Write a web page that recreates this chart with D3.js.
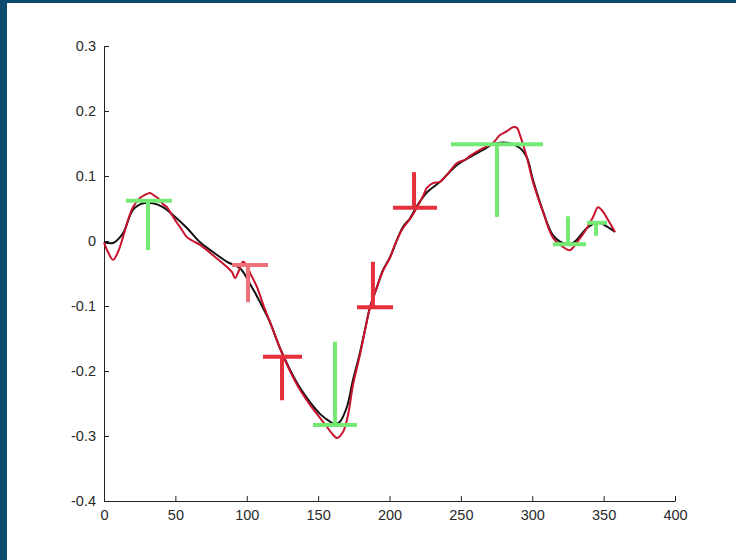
<!DOCTYPE html>
<html>
<head>
<meta charset="utf-8">
<script src="https://cdn.jsdelivr.net/npm/d3@7"></script>
<style>
  body { margin: 0; background: #fff; }
  svg { display: block; }
</style>
</head>
<body>
<div id="chart"></div>
<script>
var width = 736;
var height = 560;

// smooth (black) curve
var blackX = [0, 6.3, 13.3, 20.3, 27.3, 34.3, 41.3, 48.3, 58.1, 67.3, 76.4, 86.2, 95.3, 102.3, 109.3, 116.3, 123.3, 130.3, 137.3, 144.3, 151.3, 158.3, 161.8, 165.3, 170.2, 174.4, 179.3, 182.8, 186.3, 191.2, 195.4, 200.4, 205.3, 209.5, 214.4, 219.3, 226.3, 235.4, 247.3, 256.4, 265.5, 272.5, 282.3, 291.4, 296.3, 300.5, 307.5, 314.5, 321.5, 328.5, 338.4, 346.1, 352.4, 358];
var blackY = [-0.002, -0.003, 0.012, 0.048, 0.058, 0.058, 0.052, 0.040, 0.020, -0.002, -0.017, -0.032, -0.042, -0.066, -0.094, -0.125, -0.165, -0.198, -0.226, -0.248, -0.266, -0.278, -0.282, -0.278, -0.255, -0.214, -0.172, -0.137, -0.102, -0.071, -0.045, -0.025, 0.002, 0.022, 0.035, 0.054, 0.075, 0.091, 0.117, 0.129, 0.140, 0.149, 0.151, 0.143, 0.128, 0.094, 0.046, 0.009, -0.003, -0.003, 0.020, 0.029, 0.022, 0.014];

// noisy (red) curve
var redX = [0, 2.8, 6.3, 9.8, 13.3, 16.8, 20.3, 25.2, 28.7, 32.2, 35.7, 37.8, 41.3, 44.1, 47.6, 51.1, 54.6, 58.1, 62.3, 67.3, 76.4, 86.2, 89.7, 91.8, 94.6, 97.4, 100.2, 102.3, 107.2, 111.4, 116.3, 123.3, 130.3, 137.3, 144.3, 151.3, 156.2, 160.4, 163.2, 167.4, 170.9, 174.4, 179.3, 182.8, 186.3, 191.2, 195.4, 200.4, 205.3, 209.5, 214.4, 219.3, 223.5, 226.3, 230.5, 235.4, 240.3, 247.3, 252.9, 256.4, 265.5, 272.5, 277.4, 282.3, 286.5, 289.3, 291.4, 296.3, 300.5, 307.5, 314.5, 321.5, 326.4, 331.3, 338.4, 342.6, 346.1, 349.6, 352.4, 358];
var redY = [-0.002, -0.017, -0.029, -0.017, 0.006, 0.032, 0.052, 0.066, 0.071, 0.074, 0.069, 0.066, 0.057, 0.052, 0.040, 0.028, 0.017, 0.006, 0.000, -0.006, -0.022, -0.040, -0.048, -0.057, -0.045, -0.032, -0.038, -0.049, -0.071, -0.097, -0.125, -0.165, -0.200, -0.229, -0.252, -0.272, -0.286, -0.298, -0.303, -0.294, -0.268, -0.222, -0.175, -0.138, -0.103, -0.071, -0.046, -0.025, 0.002, 0.020, 0.034, 0.052, 0.069, 0.082, 0.089, 0.091, 0.102, 0.120, 0.125, 0.131, 0.143, 0.151, 0.163, 0.169, 0.175, 0.174, 0.163, 0.128, 0.091, 0.045, 0.005, -0.009, -0.014, -0.002, 0.020, 0.037, 0.052, 0.045, 0.035, 0.014];

// T markers: stem x, bar y, stem end, bar left/right
var markerX = [30.8, 100.9, 124.7, 161.8, 188.4, 217.2, 275.3, 325.0, 344.7];
var markerY = [0.062, -0.037, -0.178, -0.283, -0.102, 0.051, 0.149, -0.005, 0.028];
var markerTip = [-0.014, -0.094, -0.245, -0.155, -0.032, 0.106, 0.037, 0.038, 0.008];
var markerLeft = [15.4, 89.7, 111.4, 146.4, 177.2, 202.5, 243.1, 314.5, 338.4];
var markerRight = [47.6, 114.9, 138.7, 177.2, 202.5, 233.3, 307.5, 337.7, 352.4];
var markerKind = ['green', 'pink', 'red', 'green', 'red', 'red', 'green', 'green', 'green'];

var xTicks = [0, 50, 100, 150, 200, 250, 300, 350, 400];
var yTicks = [0.3, 0.2, 0.1, 0, -0.1, -0.2, -0.3, -0.4];

var kindColor = { green: '#74ea74', pink: '#f07078', red: '#e4303a' };

var xScale = d3.scaleLinear().domain([0, 400]).range([104, 675]);
var yScale = d3.scaleLinear().domain([-0.4, 0.3]).range([501, 46]);

var svg = d3.select('#chart').append('svg')
    .attr('width', width)
    .attr('height', height);

svg.append('rect').attr('width', width).attr('height', height).attr('fill', '#fff');
// dark window frame
svg.append('rect').attr('x', 0).attr('y', 0).attr('width', width).attr('height', 3).attr('fill', '#0c4a6e');
svg.append('rect').attr('x', 0).attr('y', 0).attr('width', 7).attr('height', height).attr('fill', '#0c4a6e');

var fmt = function (d) { return String(Math.round(d * 10) / 10); };

var xAxis = svg.append('g')
    .attr('transform', 'translate(0,' + yScale(-0.4) + ')')
    .call(d3.axisBottom(xScale).tickValues(xTicks).tickFormat(fmt).tickSizeInner(-5).tickSizeOuter(0).tickPadding(9));

var yAxis = svg.append('g')
    .attr('transform', 'translate(' + xScale(0) + ',0)')
    .call(d3.axisLeft(yScale).tickValues(yTicks).tickFormat(fmt).tickSizeInner(-5).tickSizeOuter(0).tickPadding(8));

[xAxis, yAxis].forEach(function (ax) {
  ax.select('.domain').attr('stroke', '#222');
  ax.selectAll('.tick line').attr('stroke', '#222');
  ax.selectAll('text')
    .attr('fill', '#2a2a2a')
    .style('font-family', '"Liberation Sans", Arial, sans-serif')
    .style('font-size', '14.5px');
});

var line = d3.line()
    .x(function (d) { return xScale(d[0]); })
    .y(function (d) { return yScale(d[1]); })
    .curve(d3.curveCatmullRom.alpha(0.5));

svg.append('path')
    .datum(d3.zip(blackX, blackY))
    .attr('d', line)
    .attr('fill', 'none')
    .attr('stroke', '#111')
    .attr('stroke-width', 2);

svg.append('path')
    .datum(d3.zip(redX, redY))
    .attr('d', line)
    .attr('fill', 'none')
    .attr('stroke', '#c8122c')
    .attr('stroke-width', 2);

var marks = svg.selectAll('g.mark').data(d3.range(markerX.length))
  .enter().append('g')
    .attr('class', 'mark')
    .attr('stroke', function (i) { return kindColor[markerKind[i]]; })
    .attr('stroke-width', 4);

marks.append('line')
    .attr('x1', function (i) { return xScale(markerLeft[i]); })
    .attr('x2', function (i) { return xScale(markerRight[i]); })
    .attr('y1', function (i) { return yScale(markerY[i]); })
    .attr('y2', function (i) { return yScale(markerY[i]); });

marks.append('line')
    .attr('x1', function (i) { return xScale(markerX[i]); })
    .attr('x2', function (i) { return xScale(markerX[i]); })
    .attr('y1', function (i) { return yScale(markerY[i]); })
    .attr('y2', function (i) { return yScale(markerTip[i]); });
</script>
</body>
</html>
